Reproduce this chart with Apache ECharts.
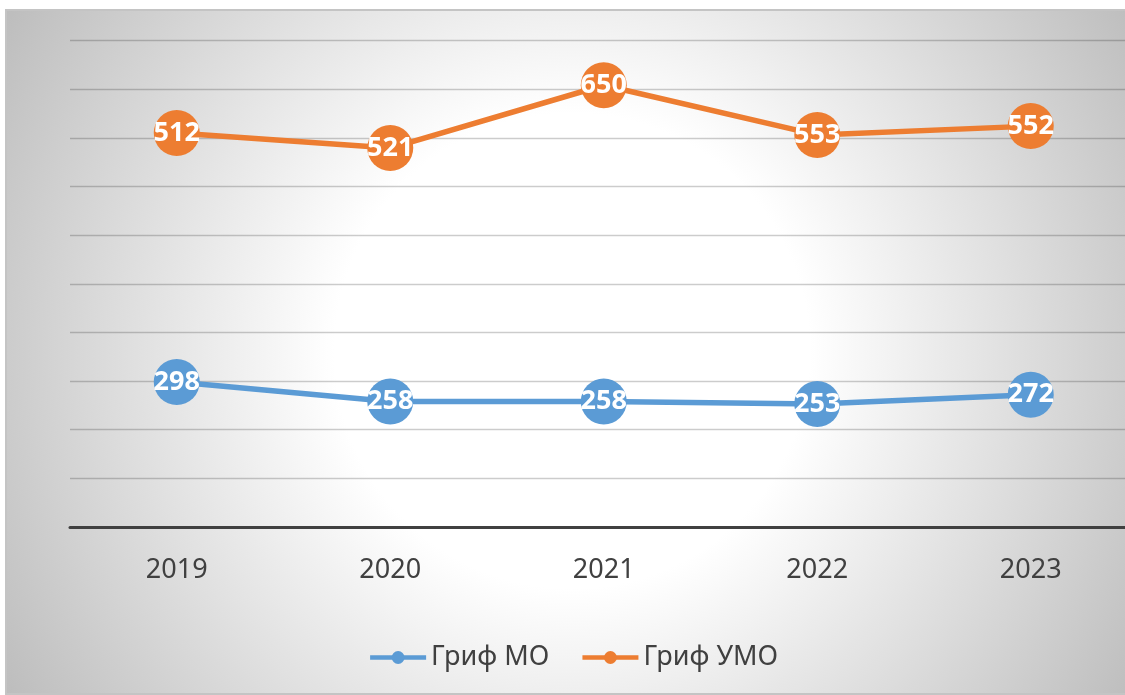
<!DOCTYPE html>
<html>
<head>
<meta charset="utf-8">
<script src="https://cdn.jsdelivr.net/npm/echarts@6/dist/echarts.min.js"></script>
<style>
  html, body { margin: 0; padding: 0; background: #ffffff; overflow: hidden; width: 1125px; height: 695px; }
  #frame { position: absolute; left: 5px; top: 9px; border: 2px solid #c4c4c4; width: 1132px; height: 682px; }
  #chart { width: 1132px; height: 682px; }
</style>
</head>
<body>
<div id="frame"><div id="chart"></div></div>
<script>
const categories = ['2019', '2020', '2021', '2022', '2023'];
const seriesNames = ['Гриф МО', 'Гриф УМО'];
const grifMO = [298, 258, 258, 253, 272];
const grifUMO = [512, 521, 650, 553, 552];
const colors = ['#5B9BD5', '#ED7D31'];

const chart = echarts.init(document.getElementById('chart'), null, { renderer: 'canvas' });

function lineSeries(name, data, color) {
  return {
    name: name,
    type: 'line',
    stack: 'total',
    data: data,
    color: color,
    symbol: 'circle',
    symbolSize: 46,
    lineStyle: { width: 5.5, color: color },
    itemStyle: { color: color },
    label: {
      show: true,
      position: 'inside',
      color: '#ffffff',
      fontFamily: 'Noto Sans',
      fontWeight: 'bold',
      fontSize: 27
    },
    emphasis: { disabled: true },
    animation: false
  };
}

chart.setOption({
  animation: false,
  backgroundColor: {
    type: 'radial', global: true, x: 565, y: 340, r: 660,
    colorStops: [
      { offset: 0, color: '#ffffff' },
      { offset: 0.36, color: '#ffffff' },
      { offset: 1, color: '#bdbdbd' }
    ]
  },
  grid: { left: 63, top: 29.5, height: 486.5, right: 1.5 },
  legend: {
    bottom: 'auto',
    top: 628,
    left: 'center',
    itemWidth: 56,
    itemHeight: 16,
    itemGap: 31,
    lineStyle: { width: 4.5 },
    textStyle: { fontFamily: 'Noto Sans', fontSize: 27, color: '#404040' },
    data: seriesNames
  },
  xAxis: {
    type: 'category',
    data: categories,
    boundaryGap: true,
    axisLine: { lineStyle: { color: '#404040', width: 3 } },
    axisTick: { show: false },
    axisLabel: { fontFamily: 'Noto Sans', fontSize: 27, color: '#404040', margin: 30 }
  },
  yAxis: {
    type: 'value',
    min: 0,
    max: 1000,
    interval: 100,
    axisLabel: { show: false },
    axisLine: { show: false },
    axisTick: { show: false },
    splitLine: { lineStyle: { color: 'rgba(0,0,0,0.2)', width: 1.3 } }
  },
  series: [
    lineSeries(seriesNames[0], grifMO, colors[0]),
    lineSeries(seriesNames[1], grifUMO, colors[1])
  ]
});
</script>
</body>
</html>
